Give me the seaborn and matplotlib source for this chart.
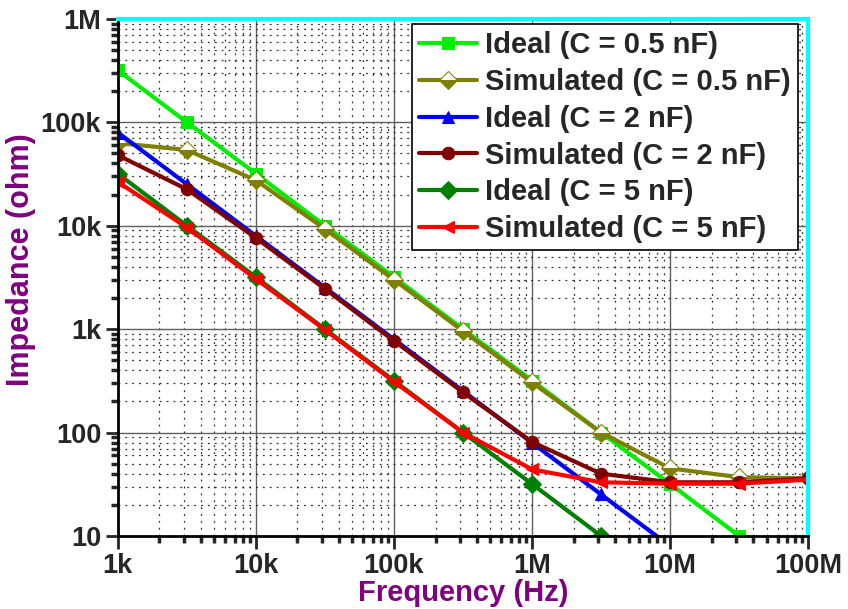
import numpy as np
import pandas as pd
import matplotlib
matplotlib.use("Agg")
import matplotlib.pyplot as plt
import matplotlib.ticker as mticker
import seaborn as sns

# frequency points (Hz), half-decade steps
freq = [1e3, 3.16e3, 1e4, 3.16e4, 1e5, 3.16e5, 1e6, 3.16e6, 1e7, 3.16e7, 1e8]

ideal_05 = [318e3, 100e3, 31.8e3, 10e3, 3.18e3, 1e3, 318, 100, 31.8, 10]
sim_05 = [63e3, 54e3, 27.5e3, 9.3e3, 3.0e3, 960, 305, 100, 45, 37, 36]
ideal_2 = [79.6e3, 25.2e3, 7.96e3, 2.52e3, 796, 252, 79.6, 25.2, 7.96]
sim_2 = [48e3, 22.5e3, 7.6e3, 2.45e3, 770, 245, 81, 40, 33, 33, 36]
ideal_5 = [31.8e3, 10e3, 3.18e3, 1e3, 318, 100, 31.8, 10]
sim_5 = [26.5e3, 9.6e3, 3.05e3, 985, 310, 100, 44, 33, 32, 32, 35]

series = [
    ("Ideal (C = 0.5 nF)", ideal_05, "#00ee00", "s", {}),
    ("Simulated (C = 0.5 nF)", sim_05, "#808000", "D",
     {"fillstyle": "bottom", "markerfacecoloralt": "white"}),
    ("Ideal (C = 2 nF)", ideal_2, "#0000ff", "^", {}),
    ("Simulated (C = 2 nF)", sim_2, "#800000", "o", {}),
    ("Ideal (C = 5 nF)", ideal_5, "#008000", "D", {}),
    ("Simulated (C = 5 nF)", sim_5, "#ff0000", "<", {}),
]

sns.set_style("ticks")
plt.rcParams['font.family'] = ['Liberation Sans', 'DejaVu Sans']
plt.rcParams['font.weight'] = 'bold'

fig = plt.figure(figsize=(8.48, 6.09), dpi=100)
ax = fig.add_axes([0.139, 0.12, 0.814, 0.849])

for name, vals, col, mk, extra in series:
    df = pd.DataFrame({"f": freq[:len(vals)], "z": vals})
    sns.lineplot(data=df, x="f", y="z", ax=ax, color=col, marker=mk,
                 markersize=9, linewidth=3.0, markeredgecolor=col,
                 label=name, **extra)

ax.set_xscale("log")
ax.set_yscale("log")
ax.set_xlim(1e3, 1e8)
ax.set_ylim(10, 1e6)

def fmt(v, pos):
    if v >= 1e6:
        return f"{v/1e6:g}M"
    if v >= 1e3:
        return f"{v/1e3:g}k"
    return f"{v:g}"

ax.xaxis.set_major_locator(mticker.LogLocator(base=10, numticks=20))
ax.yaxis.set_major_locator(mticker.LogLocator(base=10, numticks=20))
ax.xaxis.set_minor_locator(mticker.LogLocator(base=10, subs=np.arange(2, 10), numticks=20))
ax.yaxis.set_minor_locator(mticker.LogLocator(base=10, subs=np.arange(2, 10), numticks=20))
ax.xaxis.set_major_formatter(mticker.FuncFormatter(fmt))
ax.yaxis.set_major_formatter(mticker.FuncFormatter(fmt))
ax.xaxis.set_minor_formatter(mticker.NullFormatter())
ax.yaxis.set_minor_formatter(mticker.NullFormatter())

ax.grid(which="major", color="#606060", linewidth=1.0, linestyle="-")
ax.grid(which="minor", color="#303030", linewidth=0.9, linestyle=(0, (1.5, 4)))
ax.set_axisbelow(True)

for s in ["left", "bottom"]:
    ax.spines[s].set_color("black")
    ax.spines[s].set_linewidth(2)
for s in ["top", "right"]:
    ax.spines[s].set_color("#00ffff")
    ax.spines[s].set_linewidth(3)

ax.tick_params(which="major", direction="out", length=9, width=2, labelsize=19.5, pad=3)
ax.tick_params(which="minor", direction="out", length=5, width=2.5)
for lab in ax.get_xticklabels() + ax.get_yticklabels():
    lab.set_fontweight("bold")

ax.set_xlabel("Frequency (Hz)", fontsize=21, fontweight="bold", color="#800080", labelpad=0)
ax.set_ylabel("Impedance (ohm)", fontsize=22, fontweight="bold", color="#800080")
ax.yaxis.set_label_coords(-0.118, 0.535)

leg = ax.legend(loc="upper right", bbox_to_anchor=(0.985, 0.99), fontsize=21,
                frameon=True, fancybox=False, framealpha=1, edgecolor="black",
                handlelength=2.0, labelspacing=0.3, borderpad=0.25,
                handletextpad=0.25, borderaxespad=0)
leg.get_frame().set_linewidth(1.2)
for t in leg.get_texts():
    t.set_fontweight("bold")

fig.savefig("out.png", dpi=100)
